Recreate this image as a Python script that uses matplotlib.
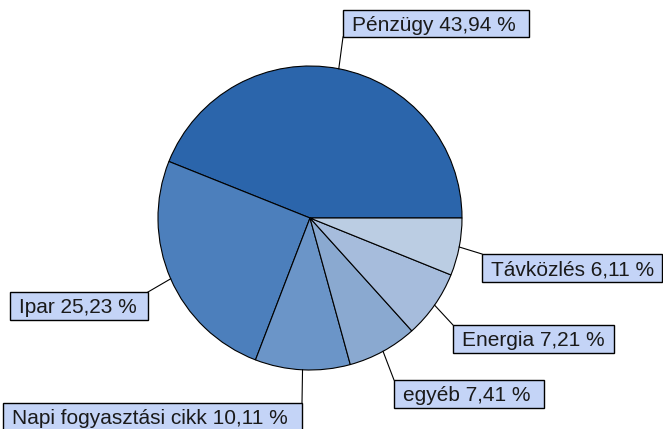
import matplotlib.pyplot as plt
from matplotlib.patches import Rectangle
import numpy as np

# data
labels = ['Pénzügy', 'Ipar', 'Napi fogyasztási cikk', 'egyéb', 'Energia', 'Távközlés']
shares = [43.94, 25.23, 10.11, 7.41, 7.21, 6.11]
colors = ['#2B65AB', '#4C7FBC', '#6B95C8', '#8AA9D0', '#A6BCDC', '#BBCDE3']

# label boxes in pixel coords (x0, y0, width, height)
boxes = [(343, 10, 186, 27), (10, 292, 138, 28), (3, 403, 299, 28),
         (394, 380, 150, 28), (453, 325, 161, 28), (482, 254, 180, 28)]

W, H = 663, 429
cx, cy, r = 310, 218, 152

plt.rcParams['font.family'] = ['Liberation Sans', 'DejaVu Sans']

fig = plt.figure(figsize=(W / 100, H / 100), dpi=100)
ax = fig.add_axes([0, 0, 1, 1])

# y axis points down (pixel-like), so clockwise in data = counterclockwise on screen
wedges, _ = ax.pie(shares, colors=colors, startangle=0, counterclock=False,
                   center=(cx, cy), radius=r,
                   wedgeprops=dict(edgecolor='black', linewidth=0.8))
ax.set_xlim(0, W)
ax.set_ylim(H, 0)
ax.set_aspect('equal')
ax.axis('off')

for w, lab, val, (x0, y0, bw, bh) in zip(wedges, labels, shares, boxes):
    mid = np.deg2rad((w.theta1 + w.theta2) / 2)
    px, py = cx + r * np.cos(mid), cy + r * np.sin(mid)
    # leader line to the nearest point of the box
    ex = min(max(px, x0), x0 + bw)
    ey = min(max(py, y0), y0 + bh)
    ax.plot([px, ex], [py, ey], color='black', lw=0.8, zorder=3)
    ax.add_patch(Rectangle((x0, y0), bw, bh, facecolor='#C4D4F7',
                           edgecolor='black', lw=1.0, zorder=4))
    txt = f"{lab} {val:.2f} %".replace('.', ',')
    ax.text(x0 + 9, y0 + 21, txt, ha='left', va='baseline',
            fontsize=15, color='#1a1a1a', zorder=5)

fig.savefig('out.png', dpi=100)
